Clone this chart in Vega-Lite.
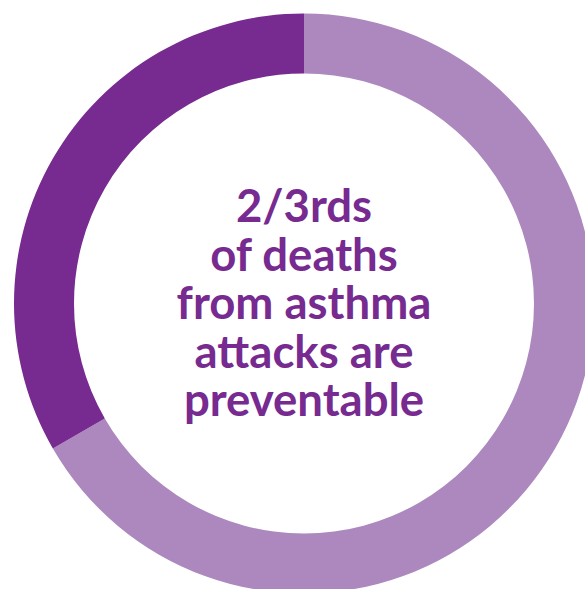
{
  "$schema": "https://vega.github.io/schema/vega-lite/v6.json",
  "width": 608,
  "height": 607,
  "padding": 0,
  "autosize": {"type": "none"},
  "background": "white",
  "config": {"view": {"stroke": null}},
  "layer": [
    {
      "data": {"values": [
        {"category": "Preventable", "share": 2, "ord": 1},
        {"category": "Not preventable", "share": 1, "ord": 2}
      ]},
      "mark": {"type": "arc", "radius": 290, "radius2": 230},
      "encoding": {
        "theta": {"field": "share", "type": "quantitative", "stack": true},
        "order": {"field": "ord", "type": "quantitative"},
        "color": {
          "field": "category",
          "type": "nominal",
          "scale": {"domain": ["Preventable", "Not preventable"], "range": ["#ac88be", "#772a8f"]},
          "legend": null
        }
      }
    },
    {
      "data": {"values": [{"label": "2/3rds\nof deaths\nfrom asthma\nattacks are\npreventable"}]},
      "mark": {
        "type": "text",
        "lineBreak": "\n",
        "lineHeight": 48.5,
        "font": "Lato",
        "fontWeight": "bold",
        "fontSize": 45.5,
        "color": "#772a8f",
        "align": "center",
        "baseline": "alphabetic",
        "dy": -81.5
      },
      "encoding": {
        "text": {"field": "label", "type": "nominal"}
      }
    }
  ]
}
